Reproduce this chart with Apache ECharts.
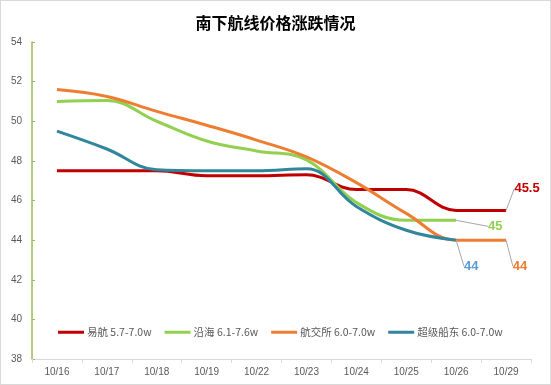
<!DOCTYPE html>
<html><head><meta charset="utf-8">
<script src="https://cdn.jsdelivr.net/npm/echarts@6/dist/echarts.min.js"></script>
<style>html,body{margin:0;padding:0;background:#fff}#c{width:551px;height:385px;box-sizing:border-box;border:1px solid #d9d9d9}</style>
</head><body><div id="c"></div>
<script>
const categories = ['10/16','10/17','10/18','10/19','10/22','10/23','10/24','10/25','10/26','10/29'];
const yihang   = [47.5, 47.5, 47.5, 47.25, 47.25, 47.3, 46.55, 46.55, 45.5, 45.5];
const yanhai   = [51.0, 51.05, 50.0, 49.0, 48.5, 48.05, 45.9, 45.0, 45.0, null];
const hangjiao = [51.6, 51.25, 50.5, 49.8, 49.05, 48.2, 46.9, 45.35, 44.0, 44.0];
const chaoji   = [49.5, 48.6, 47.55, 47.5, 47.5, 47.6, 45.7, 44.5, 44.0, null];
const seriesNames = ['易航 5.7-7.0w','沿海 6.1-7.6w','航交所 6.0-7.0w','超级船东 6.0-7.0w'];
const endLabels = ['45.5','45','44','44'];

const colors = ['#c00000','#92d050','#ed7d31','#31859c'];
const labelColors = ['#c00000','#92d050','#ed7d31','#5b9bd5'];
const offsets = [[21,-22],[39,6],[14,26],[15,26]];
const datasets = [yihang, yanhai, hangjiao, chaoji];

function lastIdx(arr){let k=-1;arr.forEach((v,i)=>{if(v!=null)k=i;});return k;}

const series = datasets.map((arr, s) => {
  const li = lastIdx(arr);
  return {
    name: seriesNames[s], type: 'line', smooth: 0.4,
    symbol: 'circle', symbolSize: 0, showSymbol: true,
    lineStyle: {width: 3, color: colors[s]},
    itemStyle: {color: colors[s]},
    data: arr.map((v,i) => i === li ? {
      value: v,
      label: {show: true, formatter: endLabels[s], position: 'inside',
              color: labelColors[s], fontSize: 13, fontWeight: 'bold', fontFamily: 'Liberation Sans, Arial'}
    } : v),
    labelLine: {show: true, lineStyle: {color: '#a6a6a6', width: 1}},
    labelLayout: function(p){ if (p.dataIndex === li) return {dx: offsets[s][0], dy: offsets[s][1]}; return {}; },
    emphasis: {disabled: true}
  };
});

const chart = echarts.init(document.getElementById('c'));
chart.setOption({
  animation: false,
  title: {text: '南下航线价格涨跌情况', left: 'center', top: 9,
          textStyle: {fontSize: 16, fontWeight: 'bold', color: '#000', fontFamily: 'Noto Sans CJK SC'}},
  legend: {left: 52, top: 321, itemWidth: 26, itemHeight: 3, itemGap: 13, icon: 'rect',
           textStyle: {fontSize: 10.5, color: '#595959', fontFamily: 'Noto Sans CJK SC', padding: [0,0,0,-2]},
           data: seriesNames},
  grid: {left: 31, right: 19, top: 41, bottom: 25},
  xAxis: {type: 'category', data: categories, boundaryGap: true,
          axisLine: {lineStyle: {color: '#d9d9d9'}},
          axisTick: {show: true, length: 4, lineStyle: {color: '#d9d9d9'}},
          axisLabel: {color: '#595959', fontSize: 10, margin: 8, fontFamily: 'Liberation Sans, Arial'}},
  yAxis: {type: 'value', min: 38, max: 54, interval: 2,
          axisLine: {show: true, lineStyle: {color: '#9bbb59', width: 1.5}},
          axisTick: {show: true, inside: true, length: 3, lineStyle: {color: '#9bbb59'}},
          splitLine: {show: false},
          axisLabel: {color: '#595959', fontSize: 10, margin: 10, fontFamily: 'Liberation Sans, Arial'}},
  series: series
});
</script></body></html>
